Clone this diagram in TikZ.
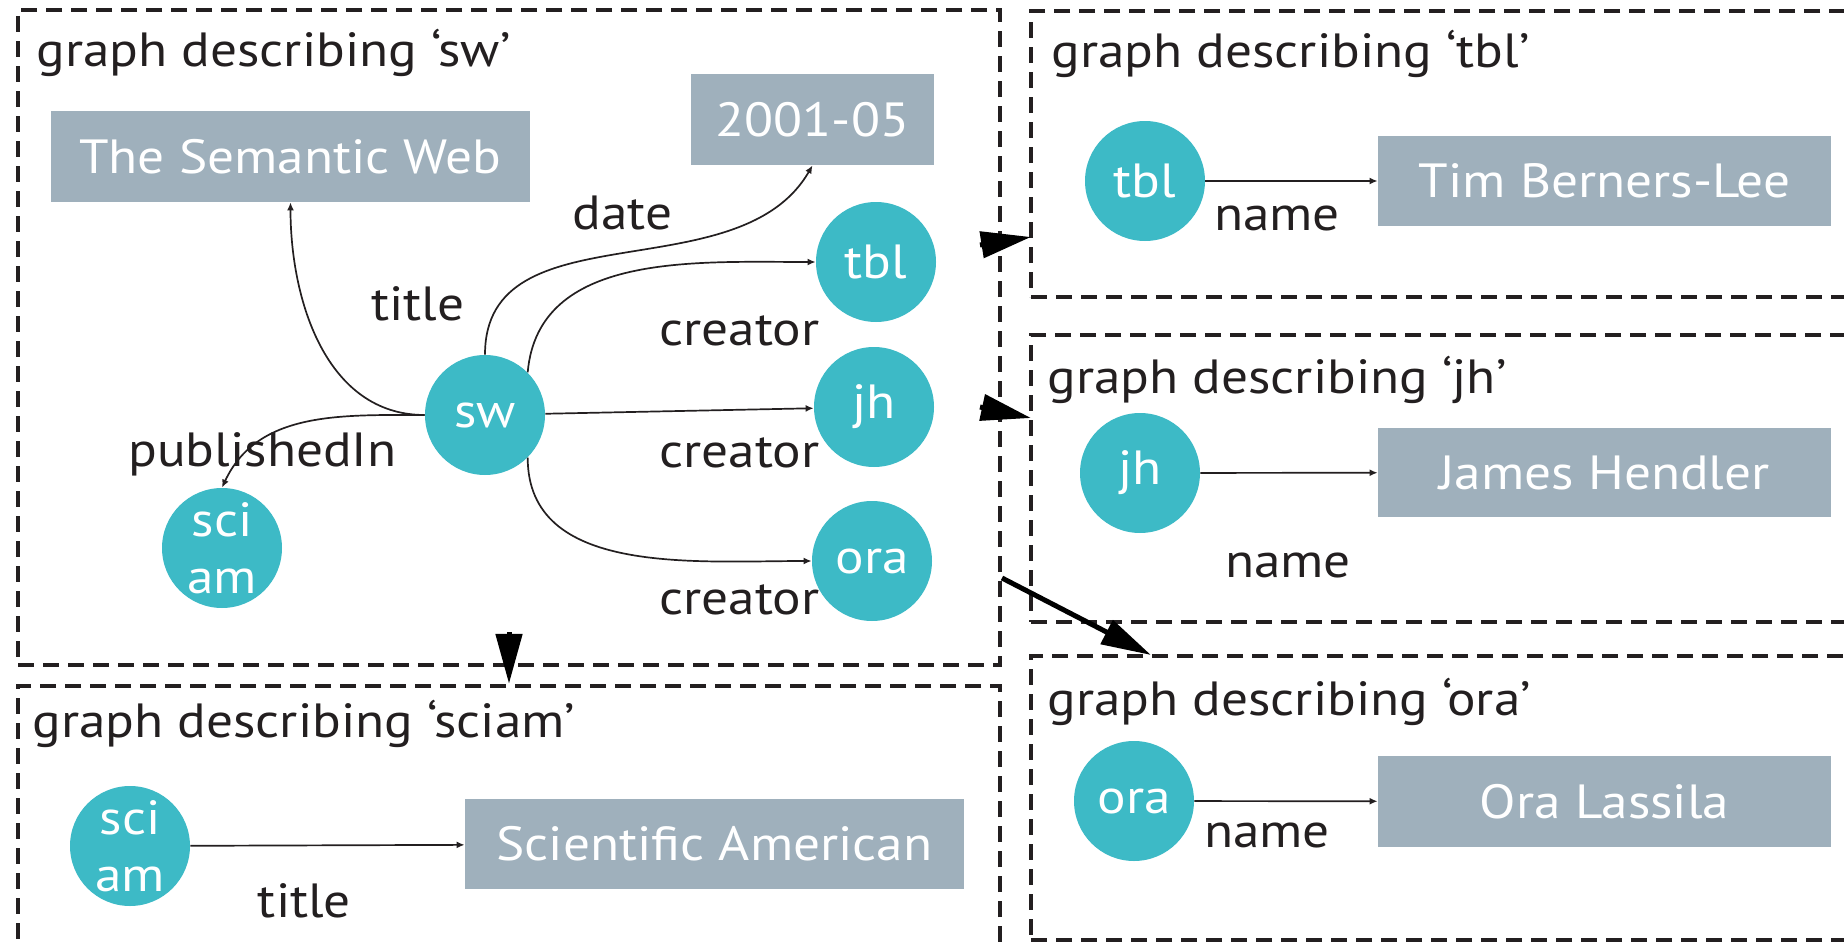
\documentclass[tikz,border=0pt]{standalone}
\usepackage{fontspec}
\setmainfont{PT Sans}[FakeStretch=1.11]
\usepackage{xcolor}
\usetikzlibrary{arrows.meta}
\definecolor{rescolor}{RGB}{61,186,198}
\definecolor{litcolor}{RGB}{159,176,188}
\definecolor{inkcolor}{RGB}{35,31,32}

\begin{document}
\begin{tikzpicture}[
  x=0.5pt, y=0.5pt,
  font=\fontsize{24}{28.5}\selectfont,
  gbox/.style={draw=inkcolor, dash pattern=on 8pt off 4.5pt, line width=2.2pt, inner sep=0pt},
  res/.style={circle, fill=rescolor, text=white, minimum size=60pt, inner sep=0pt, align=center},
  lit/.style={fill=litcolor, text=white, inner sep=0pt, minimum height=45pt},
  lbl/.style={text=inkcolor, anchor=base, inner sep=0pt},
  ttl/.style={text=inkcolor, anchor=base west, inner sep=0pt},
  arr/.style={-{Latex[length=4pt,width=3.5pt]}, line width=0.85pt, draw=inkcolor},
  bigarr/.style={-{Triangle[length=25pt,width=13pt]}, line width=2.5pt, draw=black},
]
\useasboundingbox (0,0) rectangle (1844,-942);
\clip (0,0) rectangle (1844,-942);

% ===== dashed graph boxes =====
\node[gbox, minimum width=491pt, minimum height=327.5pt] (gsw) at (509,-337.5) {};
\node[gbox, minimum width=491pt, minimum height=137pt] (gsciam) at (509,-823) {};
\node[gbox, minimum width=419.5pt, minimum height=143pt] (gtbl) at (1450.5,-154) {};
\node[gbox, minimum width=419.5pt, minimum height=143.5pt] (gjh) at (1450.5,-478.5) {};
\node[gbox, minimum width=419.5pt, minimum height=142pt] (gora) at (1450.5,-798) {};

\node[ttl] (lsw) at (36,-67) {graph describing ‘sw’};
\node[ttl] (lsciam) at (32,-737) {graph describing ‘sciam’};
\node[ttl] (ltbl) at (1051,-68) {graph describing ‘tbl’};
\node[ttl] (ljh) at (1047,-393) {graph describing ‘jh’};
\node[ttl] (lora) at (1047,-715) {graph describing ‘ora’};

% ===== graph describing sw =====
\node[res] (sw) at (485,-415) {sw};
\node[res] (tbl) at (876,-262) {tbl};
\node[res] (jh) at (874,-407) {jh};
\node[res] (ora) at (872,-561) {ora};
\node[res] (sciam) at (222,-548) {sci\\am};
\node[lit, minimum width=239.5pt, minimum height=45.5pt] (semweb) at (290.5,-156.5) {The Semantic Web};
\node[lit, minimum width=121.5pt, minimum height=45.5pt] (date) at (812.5,-119.5) {2001-05};

\draw[arr] (sw.west) to[out=180,in=-90] (semweb.south);
\draw[arr] (sw.west) to[out=180,in=65] (sciam.north);
\draw[arr] (sw.north) to[out=90,in=-120] (date.south);
\draw[arr] (sw.45) to[out=85,in=180] (tbl.west);
\draw[arr] (sw) -- (jh);
\draw[arr] (sw.-45) to[out=-90,in=180] (ora.west);

\node[lbl] (ltitle) at (418,-320) {title};
\node[lbl] (ldate) at (622.5,-229) {date};
\node[lbl] (lpub) at (262.5,-466) {publishedIn};
\foreach \y [count=\i] in {-345,-467,-614}
  \node[lbl] (lcreator\i) at (739.5,\y) {creator};

% ===== graph describing sciam =====
\node[res] (sciamB) at (130,-846) {sci\\am};
\node[lit, minimum width=249.5pt] (sciamname) at (714.5,-844) {Scientific American};
\draw[arr] (sciamB) -- (sciamname);
\node[lbl] (ltitleB) at (304.5,-917) {title};

% ===== graphs describing tbl, jh, ora =====
\node[res] (tblR) at (1145,-181) {tbl};
\node[lit, minimum width=226.5pt] (tblname) at (1604.5,-181) {Tim Berners-Lee};
\draw[arr] (tblR) -- (tblname);
\node[lbl] (lname1) at (1277,-230) {name};

\node[res] (jhR) at (1140,-473) {jh};
\node[lit, minimum width=226.5pt, minimum height=44.5pt] (jhname) at (1604.5,-472.5) {James Hendler};
\draw[arr] (jhR) -- (jhname);
\node[lbl] (lname2) at (1288,-577) {name};

\node[res] (oraR) at (1134,-801) {ora};
\node[lit, minimum width=226.5pt, minimum height=45.5pt] (oraname) at (1604.5,-801.5) {Ora Lassila};
\draw[arr] (oraR) -- (oraname);
\node[lbl] (lname3) at (1267,-847) {name};

% ===== links between graphs =====
\coordinate (swdown) at (509,-632);
\coordinate (tblfrom) at (980,-245);
\coordinate (tblto) at (1031,-237);
\coordinate (jhfrom) at (980,-407);
\coordinate (jhto) at (1031,-418);
\coordinate (orafrom) at (1002,-578);
\coordinate (orato) at (1151,-655);
\draw[bigarr] (swdown) -- (gsciam.north);
\draw[bigarr] (tblfrom) -- (tblto);
\draw[bigarr] (jhfrom) -- (jhto);
\draw[bigarr] (orafrom) -- (orato);

\end{tikzpicture}
\end{document}
